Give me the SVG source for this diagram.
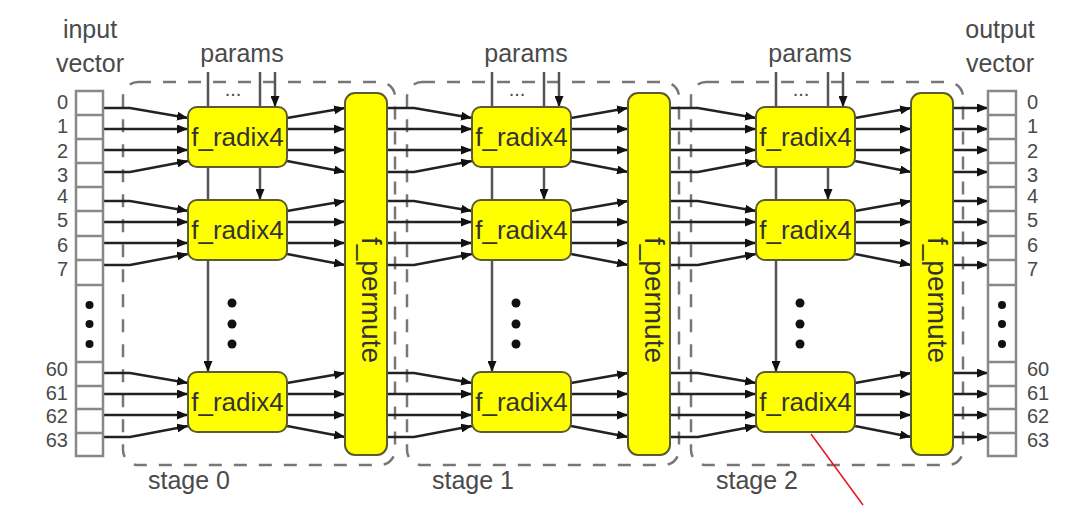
<svg xmlns="http://www.w3.org/2000/svg" width="1080" height="508" viewBox="0 0 1080 508">
<style>
.lbl{font-family:"Liberation Sans",Arial,sans-serif;fill:#4a4a4a}
.t25{font-size:25px}
.num{font-size:20px}
.blk{fill:#ffff00;stroke:#5c5a30;stroke-width:2}
.btxt{font-family:"Liberation Sans",Arial,sans-serif;font-size:26px;fill:#333;text-anchor:middle}
.ptxt{font-size:28px}
.vec{fill:#fff;stroke:#888;stroke-width:2.5}
.cell{stroke:#888;stroke-width:2.5}
.stage{fill:none;stroke:#777;stroke-width:2.5;stroke-dasharray:13 12}
.w{fill:none;stroke:#222;stroke-width:2.5;marker-end:url(#ah)}
.p{fill:none;stroke:#555;stroke-width:2.5;marker-end:url(#ah)}
.dot{fill:#111}
</style>
<defs>
<marker id="ah" markerUnits="userSpaceOnUse" markerWidth="11" markerHeight="9" refX="11" refY="4.5" orient="auto">
<path d="M0,0 L11,4.5 L0,9 z" fill="#111"/>
</marker>
</defs>
<rect width="1080" height="508" fill="#fff"/>

<g id="stage-frames">
<rect class="stage" x="123" y="82" width="272" height="383" rx="15"/>
<rect class="stage" x="407" y="82" width="272" height="383" rx="15"/>
<rect class="stage" x="691" y="82" width="272" height="383" rx="15"/>
</g>

<g id="labels" class="lbl">
<text class="t25" x="90" y="38" text-anchor="middle">input</text>
<text class="t25" x="90" y="72" text-anchor="middle">vector</text>
<text class="t25" x="1000" y="38" text-anchor="middle">output</text>
<text class="t25" x="1000" y="72" text-anchor="middle">vector</text>
<text class="t25" x="242" y="62" text-anchor="middle">params</text>
<text class="t25" x="526" y="62" text-anchor="middle">params</text>
<text class="t25" x="810" y="62" text-anchor="middle">params</text>
<text class="t25" x="189" y="489" text-anchor="middle">stage 0</text>
<text class="t25" x="473" y="489" text-anchor="middle">stage 1</text>
<text class="t25" x="757" y="489" text-anchor="middle">stage 2</text>
<text x="233" y="96" text-anchor="middle" font-size="20">...</text>
<text x="517" y="96" text-anchor="middle" font-size="20">...</text>
<text x="801" y="96" text-anchor="middle" font-size="20">...</text>
</g>

<g id="params-lines">
<path class="p" d="M208,72V372"/>
<path class="p" d="M260,72V200"/>
<path class="p" d="M275,72V107"/>
<path class="p" d="M492,72V372"/>
<path class="p" d="M544,72V200"/>
<path class="p" d="M559,72V107"/>
<path class="p" d="M776,72V372"/>
<path class="p" d="M828,72V200"/>
<path class="p" d="M843,72V107"/>
</g>

<g id="connectors">
<path class="w" d="M103,108H130L188,118"/>
<path class="w" d="M103,129H188"/>
<path class="w" d="M103,150H188"/>
<path class="w" d="M103,172H130L188,161"/>
<path class="w" d="M103,201H130L188,211"/>
<path class="w" d="M103,222H188"/>
<path class="w" d="M103,243H188"/>
<path class="w" d="M103,265H130L188,254"/>
<path class="w" d="M103,373H130L188,383"/>
<path class="w" d="M103,394H188"/>
<path class="w" d="M103,415H188"/>
<path class="w" d="M103,437H130L188,426"/>

<path class="w" d="M287,118L345,108"/>
<path class="w" d="M287,129H345"/>
<path class="w" d="M287,150H345"/>
<path class="w" d="M287,161L345,172"/>
<path class="w" d="M287,211L345,201"/>
<path class="w" d="M287,222H345"/>
<path class="w" d="M287,243H345"/>
<path class="w" d="M287,254L345,265"/>
<path class="w" d="M287,383L345,373"/>
<path class="w" d="M287,394H345"/>
<path class="w" d="M287,415H345"/>
<path class="w" d="M287,426L345,437"/>

<path class="w" d="M387,108H414L472,118"/>
<path class="w" d="M387,129H472"/>
<path class="w" d="M387,150H472"/>
<path class="w" d="M387,172H414L472,161"/>
<path class="w" d="M387,201H414L472,211"/>
<path class="w" d="M387,222H472"/>
<path class="w" d="M387,243H472"/>
<path class="w" d="M387,265H414L472,254"/>
<path class="w" d="M387,373H414L472,383"/>
<path class="w" d="M387,394H472"/>
<path class="w" d="M387,415H472"/>
<path class="w" d="M387,437H414L472,426"/>

<path class="w" d="M571,118L628,108"/>
<path class="w" d="M571,129H628"/>
<path class="w" d="M571,150H628"/>
<path class="w" d="M571,161L628,172"/>
<path class="w" d="M571,211L628,201"/>
<path class="w" d="M571,222H628"/>
<path class="w" d="M571,243H628"/>
<path class="w" d="M571,254L628,265"/>
<path class="w" d="M571,383L628,373"/>
<path class="w" d="M571,394H628"/>
<path class="w" d="M571,415H628"/>
<path class="w" d="M571,426L628,437"/>

<path class="w" d="M670,108H698L756,118"/>
<path class="w" d="M670,129H756"/>
<path class="w" d="M670,150H756"/>
<path class="w" d="M670,172H698L756,161"/>
<path class="w" d="M670,201H698L756,211"/>
<path class="w" d="M670,222H756"/>
<path class="w" d="M670,243H756"/>
<path class="w" d="M670,265H698L756,254"/>
<path class="w" d="M670,373H698L756,383"/>
<path class="w" d="M670,394H756"/>
<path class="w" d="M670,415H756"/>
<path class="w" d="M670,437H698L756,426"/>

<path class="w" d="M855,118L911,108"/>
<path class="w" d="M855,129H911"/>
<path class="w" d="M855,150H911"/>
<path class="w" d="M855,161L911,172"/>
<path class="w" d="M855,211L911,201"/>
<path class="w" d="M855,222H911"/>
<path class="w" d="M855,243H911"/>
<path class="w" d="M855,254L911,265"/>
<path class="w" d="M855,383L911,373"/>
<path class="w" d="M855,394H911"/>
<path class="w" d="M855,415H911"/>
<path class="w" d="M855,426L911,437"/>

<path class="w" d="M953,108H988"/>
<path class="w" d="M953,129H988"/>
<path class="w" d="M953,150H988"/>
<path class="w" d="M953,172H988"/>
<path class="w" d="M953,201H988"/>
<path class="w" d="M953,222H988"/>
<path class="w" d="M953,243H988"/>
<path class="w" d="M953,265H988"/>
<path class="w" d="M953,373H988"/>
<path class="w" d="M953,394H988"/>
<path class="w" d="M953,415H988"/>
<path class="w" d="M953,437H988"/>
</g>

<g id="input-vector">
<rect class="vec" x="76" y="91" width="27" height="365"/>
<path class="cell" d="M76,115H103M76,139H103M76,163H103M76,187H103M76,211H103M76,236H103M76,260H103M76,285H103M76,362H103M76,386H103M76,409H103M76,433H103"/>
<circle class="dot" cx="89.5" cy="305" r="4"/>
<circle class="dot" cx="89.5" cy="324" r="4"/>
<circle class="dot" cx="89.5" cy="344" r="4"/>
<g class="lbl num" text-anchor="end">
<text x="68" y="109">0</text>
<text x="68" y="133">1</text>
<text x="68" y="158">2</text>
<text x="68" y="182">3</text>
<text x="68" y="203">4</text>
<text x="68" y="227">5</text>
<text x="68" y="252">6</text>
<text x="68" y="276">7</text>
<text x="68" y="376">60</text>
<text x="68" y="400">61</text>
<text x="68" y="423">62</text>
<text x="68" y="447">63</text>
</g>
</g>

<g id="output-vector">
<rect class="vec" x="988" y="91" width="28" height="365"/>
<path class="cell" d="M988,115H1016M988,139H1016M988,163H1016M988,187H1016M988,211H1016M988,236H1016M988,260H1016M988,285H1016M988,362H1016M988,386H1016M988,409H1016M988,433H1016"/>
<circle class="dot" cx="1002" cy="305" r="4"/>
<circle class="dot" cx="1002" cy="324" r="4"/>
<circle class="dot" cx="1002" cy="344" r="4"/>
<g class="lbl num" text-anchor="start">
<text x="1027" y="109">0</text>
<text x="1027" y="133">1</text>
<text x="1027" y="158">2</text>
<text x="1027" y="182">3</text>
<text x="1027" y="203">4</text>
<text x="1027" y="227">5</text>
<text x="1027" y="252">6</text>
<text x="1027" y="276">7</text>
<text x="1027" y="376">60</text>
<text x="1027" y="400">61</text>
<text x="1027" y="423">62</text>
<text x="1027" y="447">63</text>
</g>
</g>

<g id="stage0-radix-a"><rect class="blk" x="188" y="107" width="99" height="60" rx="9"/><text class="btxt" x="237.5" y="146">f_radix4</text></g>
<g id="stage0-radix-b"><rect class="blk" x="188" y="200" width="99" height="60" rx="9"/><text class="btxt" x="237.5" y="239">f_radix4</text></g>
<g id="stage0-radix-c"><rect class="blk" x="188" y="372" width="99" height="60" rx="9"/><text class="btxt" x="237.5" y="411">f_radix4</text></g>
<g id="stage0-permute"><rect class="blk" x="345" y="93" width="42" height="362" rx="10"/><text class="btxt ptxt" transform="translate(362,300) rotate(90)">f_permute</text></g>

<g id="stage1-radix-a"><rect class="blk" x="472" y="107" width="99" height="60" rx="9"/><text class="btxt" x="521.5" y="146">f_radix4</text></g>
<g id="stage1-radix-b"><rect class="blk" x="472" y="200" width="99" height="60" rx="9"/><text class="btxt" x="521.5" y="239">f_radix4</text></g>
<g id="stage1-radix-c"><rect class="blk" x="472" y="372" width="99" height="60" rx="9"/><text class="btxt" x="521.5" y="411">f_radix4</text></g>
<g id="stage1-permute"><rect class="blk" x="628" y="93" width="42" height="362" rx="10"/><text class="btxt ptxt" transform="translate(645,300) rotate(90)">f_permute</text></g>

<g id="stage2-radix-a"><rect class="blk" x="756" y="107" width="99" height="60" rx="9"/><text class="btxt" x="805.5" y="146">f_radix4</text></g>
<g id="stage2-radix-b"><rect class="blk" x="756" y="200" width="99" height="60" rx="9"/><text class="btxt" x="805.5" y="239">f_radix4</text></g>
<g id="stage2-radix-c"><rect class="blk" x="756" y="372" width="99" height="60" rx="9"/><text class="btxt" x="805.5" y="411">f_radix4</text></g>
<g id="stage2-permute"><rect class="blk" x="911" y="93" width="42" height="362" rx="10"/><text class="btxt ptxt" transform="translate(928,300) rotate(90)">f_permute</text></g>

<g id="ellipsis">
<circle class="dot" cx="232" cy="303" r="4.5"/><circle class="dot" cx="232" cy="324" r="4.5"/><circle class="dot" cx="232" cy="344" r="4.5"/>
<circle class="dot" cx="516" cy="303" r="4.5"/><circle class="dot" cx="516" cy="324" r="4.5"/><circle class="dot" cx="516" cy="344" r="4.5"/>
<circle class="dot" cx="800" cy="303" r="4.5"/><circle class="dot" cx="800" cy="324" r="4.5"/><circle class="dot" cx="800" cy="344" r="4.5"/>
</g>

<line x1="811" y1="434" x2="863" y2="505" stroke="#e8141c" stroke-width="1.5"/>
</svg>
